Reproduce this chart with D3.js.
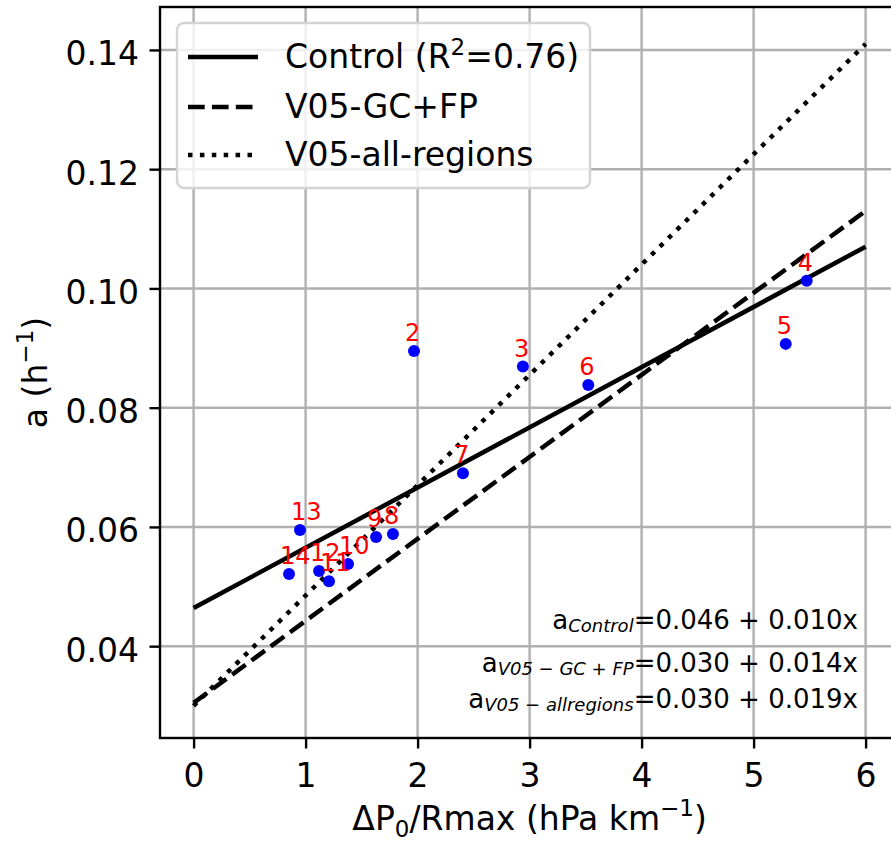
<!DOCTYPE html>
<html>
<head>
<meta charset="utf-8">
<script src="https://cdn.jsdelivr.net/npm/d3@7"></script>
<style>
  html, body { margin: 0; padding: 0; background: #fff; }
  svg { display: block; font-family: "DejaVu Sans", sans-serif; }
</style>
</head>
<body>
<svg id="chart" width="891" height="849"></svg>
<script>
// Scatter of growth rate a vs dP0/Rmax with three linear fits

const WIDTH = 891;
const HEIGHT = 849;

// case labels and values
const pointLabels = ["2", "3", "4", "5", "6", "7", "8", "9", "10", "11", "12", "13", "14"];
const pointX = [1.968, 2.94, 5.474, 5.287, 3.524, 2.405, 1.780, 1.629, 1.379, 1.209, 1.12, 0.95, 0.852];
const pointY = [0.0895, 0.0869, 0.1013, 0.0907, 0.0838, 0.0690, 0.0588, 0.0583, 0.0538, 0.0509, 0.0526, 0.0595, 0.0521];

// fitted lines a = intercept + slope * x, drawn over x in [0, 6]
const fitNames = ["Control", "V05-GC+FP", "V05-all-regions"];
const fitIntercepts = [0.0464, 0.0305, 0.0300];
const fitSlopes = [0.0101, 0.01375, 0.0185];
const fitRange = [0, 6];
const fitR2 = "0.76";

// equation text in lower right
const eqSubs = ["Control", "V05 \u2212 GC + FP", "V05 \u2212 allregions"];
const eqIntercepts = ["0.046", "0.030", "0.030"];
const eqSlopes = ["0.010", "0.014", "0.019"];

const xTicks = [0, 1, 2, 3, 4, 5, 6];
const yTicks = [0.04, 0.06, 0.08, 0.10, 0.12, 0.14];

const dashStyles = [null, "16.7,7.2", "4.5,7.4"];

const svg = d3.select("#chart");

const x = d3.scaleLinear().domain([-0.3, 6.3]).range([160, 899.2]);
const y = d3.scaleLinear().domain([0.0246, 0.1472]).range([738, 7]);

const plot = svg.append("g");

// grid
plot.selectAll(".gx")
    .data(xTicks)
    .join("line")
    .attr("x1", d => x(d)).attr("x2", d => x(d))
    .attr("y1", y.range()[1]).attr("y2", y.range()[0])
    .attr("stroke", "#b0b0b0")
    .attr("stroke-width", 2.4);

plot.selectAll(".gy")
    .data(yTicks)
    .join("line")
    .attr("x1", x.range()[0]).attr("x2", x.range()[1])
    .attr("y1", d => y(d)).attr("y2", d => y(d))
    .attr("stroke", "#b0b0b0")
    .attr("stroke-width", 2.4);

// fit lines
const line = d3.line().x(d => x(d[0])).y(d => y(d[1]));
fitNames.forEach((name, i) => {
    const pts = fitRange.map(v => [v, fitIntercepts[i] + fitSlopes[i] * v]);
    plot.append("path")
        .attr("d", line(pts))
        .attr("fill", "none")
        .attr("stroke", "#000")
        .attr("stroke-width", 4.5)
        .attr("stroke-dasharray", dashStyles[i]);
});

// points
const points = pointLabels.map((lab, i) => ({ lab, px: pointX[i], py: pointY[i] }));

plot.selectAll(".pt")
    .data(points)
    .join("circle")
    .attr("cx", d => x(d.px))
    .attr("cy", d => y(d.py))
    .attr("r", 6)
    .attr("fill", "#0000ff");

// labels overlap in the cluster, same as the source figure
plot.selectAll(".lab")
    .data(points)
    .join("text")
    .attr("x", d => x(d.px) - 9)
    .attr("y", d => y(d.py) - 10)
    .attr("font-size", "24px")
    .attr("fill", "#ff0000")
    .text(d => d.lab);

// equations
const eqBase = [629, 672, 708];
eqSubs.forEach((sub, i) => {
    const t = plot.append("text")
        .attr("x", 858)
        .attr("y", eqBase[i])
        .attr("text-anchor", "end")
        .attr("font-size", "26px")
        .attr("fill", "#000");
    t.append("tspan").text("a");
    t.append("tspan")
        .attr("dy", 3)
        .attr("font-size", "18px")
        .attr("font-style", "italic")
        .text(sub);
    t.append("tspan")
        .attr("dy", -3)
        .text(`=${eqIntercepts[i]} + ${eqSlopes[i]}x`);
});

// axes
const xAxis = svg.append("g")
    .attr("transform", `translate(0,${y.range()[0]})`)
    .call(d3.axisBottom(x).tickValues(xTicks).tickSize(10.5).tickPadding(10.5).tickFormat(d3.format("d")));

const yAxis = svg.append("g")
    .attr("transform", `translate(${x.range()[0]},0)`)
    .call(d3.axisLeft(y).tickValues(yTicks).tickSize(10.5).tickPadding(10.5).tickFormat(d3.format(".2f")));

[xAxis, yAxis].forEach(g => {
    g.select(".domain").remove();
    g.selectAll(".tick line").attr("stroke", "#000").attr("stroke-width", 2.4);
    g.selectAll(".tick text")
        .attr("font-size", "33px")
        .attr("font-family", "DejaVu Sans, sans-serif")
        .attr("fill", "#000");
});
xAxis.selectAll(".tick text").attr("dy", "0.85em");
yAxis.selectAll(".tick text").attr("dy", "0.45em");

// spines
svg.append("rect")
    .attr("x", x.range()[0])
    .attr("y", y.range()[1])
    .attr("width", x.range()[1] - x.range()[0])
    .attr("height", y.range()[0] - y.range()[1])
    .attr("fill", "none")
    .attr("stroke", "#000")
    .attr("stroke-width", 2.4);

// axis labels
const xLab = svg.append("text")
    .attr("x", (x.range()[0] + x.range()[1]) / 2)
    .attr("y", 830)
    .attr("text-anchor", "middle")
    .attr("font-size", "33px");
xLab.append("tspan").text("\u0394P");
xLab.append("tspan").attr("dy", 7).attr("font-size", "23px").text("0");
xLab.append("tspan").attr("dy", -7).text("/Rmax (hPa km");
xLab.append("tspan").attr("dy", -14).attr("font-size", "23px").text("\u22121");
xLab.append("tspan").attr("dy", 14).text(")");

const yLab = svg.append("text")
    .attr("transform", `translate(47,${(y.range()[0] + y.range()[1]) / 2}) rotate(-90)`)
    .attr("text-anchor", "middle")
    .attr("font-size", "33px");
yLab.append("tspan").text("a (h");
yLab.append("tspan").attr("dy", -14).attr("font-size", "23px").text("\u22121");
yLab.append("tspan").attr("dy", 14).text(")");

// legend
const legend = svg.append("g");
legend.append("rect")
    .attr("x", 177).attr("y", 23)
    .attr("width", 413).attr("height", 165)
    .attr("rx", 7)
    .attr("fill", "#fff")
    .attr("fill-opacity", 0.8)
    .attr("stroke", "#d4d4d4")
    .attr("stroke-width", 2.4);

const legRows = [57, 107, 155];
fitNames.forEach((name, i) => {
    legend.append("line")
        .attr("x1", 188).attr("x2", 258)
        .attr("y1", legRows[i]).attr("y2", legRows[i])
        .attr("stroke", "#000")
        .attr("stroke-width", 4.5)
        .attr("stroke-dasharray", dashStyles[i]);
    const t = legend.append("text")
        .attr("x", 285)
        .attr("y", legRows[i] + 11)
        .attr("font-size", "33px");
    if (i === 0) {
        t.append("tspan").text(`${name} (R`);
        t.append("tspan").attr("dy", -13).attr("font-size", "23px").text("2");
        t.append("tspan").attr("dy", 13).text(`=${fitR2})`);
    } else {
        t.text(name);
    }
});
</script>
</body>
</html>
